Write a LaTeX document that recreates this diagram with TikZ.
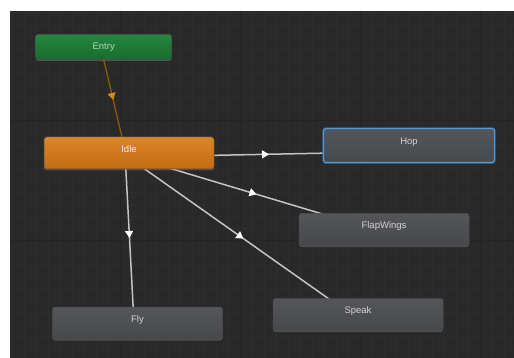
\documentclass[tikz,border=0pt]{standalone}
\usepackage{fontspec}
\setmainfont{Liberation Sans}
\usetikzlibrary{arrows.meta,decorations.markings,shadows}
\definecolor{bgc}{HTML}{292929}
\definecolor{gridc}{HTML}{2D2D2D}
\definecolor{gridm}{HTML}{242424}
\definecolor{linec}{HTML}{C4C4C4}
\definecolor{entrylc}{HTML}{8A5A0C}
\definecolor{entryac}{HTML}{D08C12}
\definecolor{greentop}{HTML}{24873F}
\definecolor{greenbot}{HTML}{1A6B30}
\definecolor{orangetop}{HTML}{DA8628}
\definecolor{orangebot}{HTML}{C26C12}
\definecolor{greytop}{HTML}{55565A}
\definecolor{greybot}{HTML}{47484B}
\definecolor{hopblue}{HTML}{4A9BE0}
\definecolor{txtc}{HTML}{D2D2D2}
\pgfdeclarelayer{bg}
\pgfdeclarelayer{edges}
\pgfsetlayers{bg,edges,main}
\tikzset{
  state/.style={rectangle, rounded corners=2.5pt, inner sep=0pt,
    minimum width=170pt, minimum height=32pt, text=txtc,
    font=\fontsize{9.5}{11}\selectfont, draw=black!70, line width=0.5pt,
    top color=greytop, bottom color=greybot,
    drop shadow={shadow xshift=0pt, shadow yshift=-1.5pt, opacity=0.45}},
  entrystate/.style={state, top color=greentop, bottom color=greenbot, text=green!15!txtc},
  idlestate/.style={state, top color=orangetop, bottom color=orangebot, text=orange!15!white},
  selstate/.style={state, draw=hopblue, line width=1.2pt,
    preaction={draw=hopblue!60!black, line width=3pt, opacity=0.6}},
  trans/.style={draw=linec, line width=1.5pt, postaction={decorate},
    decoration={markings, mark=at position #1 with {\arrow[white]{Triangle[length=7pt,width=8pt]}}}},
  trans/.default=0.5,
  entrytrans/.style={draw=entrylc, line width=1.3pt, postaction={decorate},
    decoration={markings, mark=at position 0.5 with {\arrow[entryac]{Triangle[length=7pt,width=8pt]}}}},
}
\newcommand{\up}[1]{\raisebox{8pt}{#1}}
\begin{document}
\begin{tikzpicture}[x=1pt,y=-1pt]
\useasboundingbox (0,0) rectangle (514,358);
\begin{pgfonlayer}{bg}
  \fill[white] (0,0) rectangle (514,358);
  \fill[bgc] (10,11) rectangle (514,358);
  \draw[gridc, line width=0.4pt, step=12pt] (10,11) grid (514,358);
  \draw[gridm, line width=0.6pt, step=120pt] (10,11) grid (514,358);
\end{pgfonlayer}
\node[entrystate, minimum width=136pt, minimum height=25pt] (entry) at (103.7,46.8) {Entry};
\node[idlestate] (idle) at (129,153) {\up{Idle}};
\node[selstate, minimum width=171pt, minimum height=34pt] (hop) at (409,145.5) {\up{Hop}};
\node[state] (flap) at (384,229.5) {\up{FlapWings}};
\node[state] (speak) at (358,314.5) {\up{Speak}};
\node[state] (fly) at (137.5,323) {\up{Fly}};
\begin{pgfonlayer}{edges}
  \draw[entrytrans] ([xshift=-3pt]entry.center) -- ([xshift=-3.3pt]idle.center);
  \draw[trans] ([yshift=-4pt]idle.center) -- ([yshift=-6pt]hop.center);
  \draw[trans] ([yshift=-3pt]idle.center) -- ([yshift=-3pt]flap.center);
  \draw[trans=0.53] ([xshift=-7pt]idle.center) -- ([xshift=-7pt]speak.center);
  \draw[trans] ([xshift=-4pt]idle.center) -- ([xshift=-3.5pt]fly.center);
\end{pgfonlayer}
\end{tikzpicture}
\end{document}
